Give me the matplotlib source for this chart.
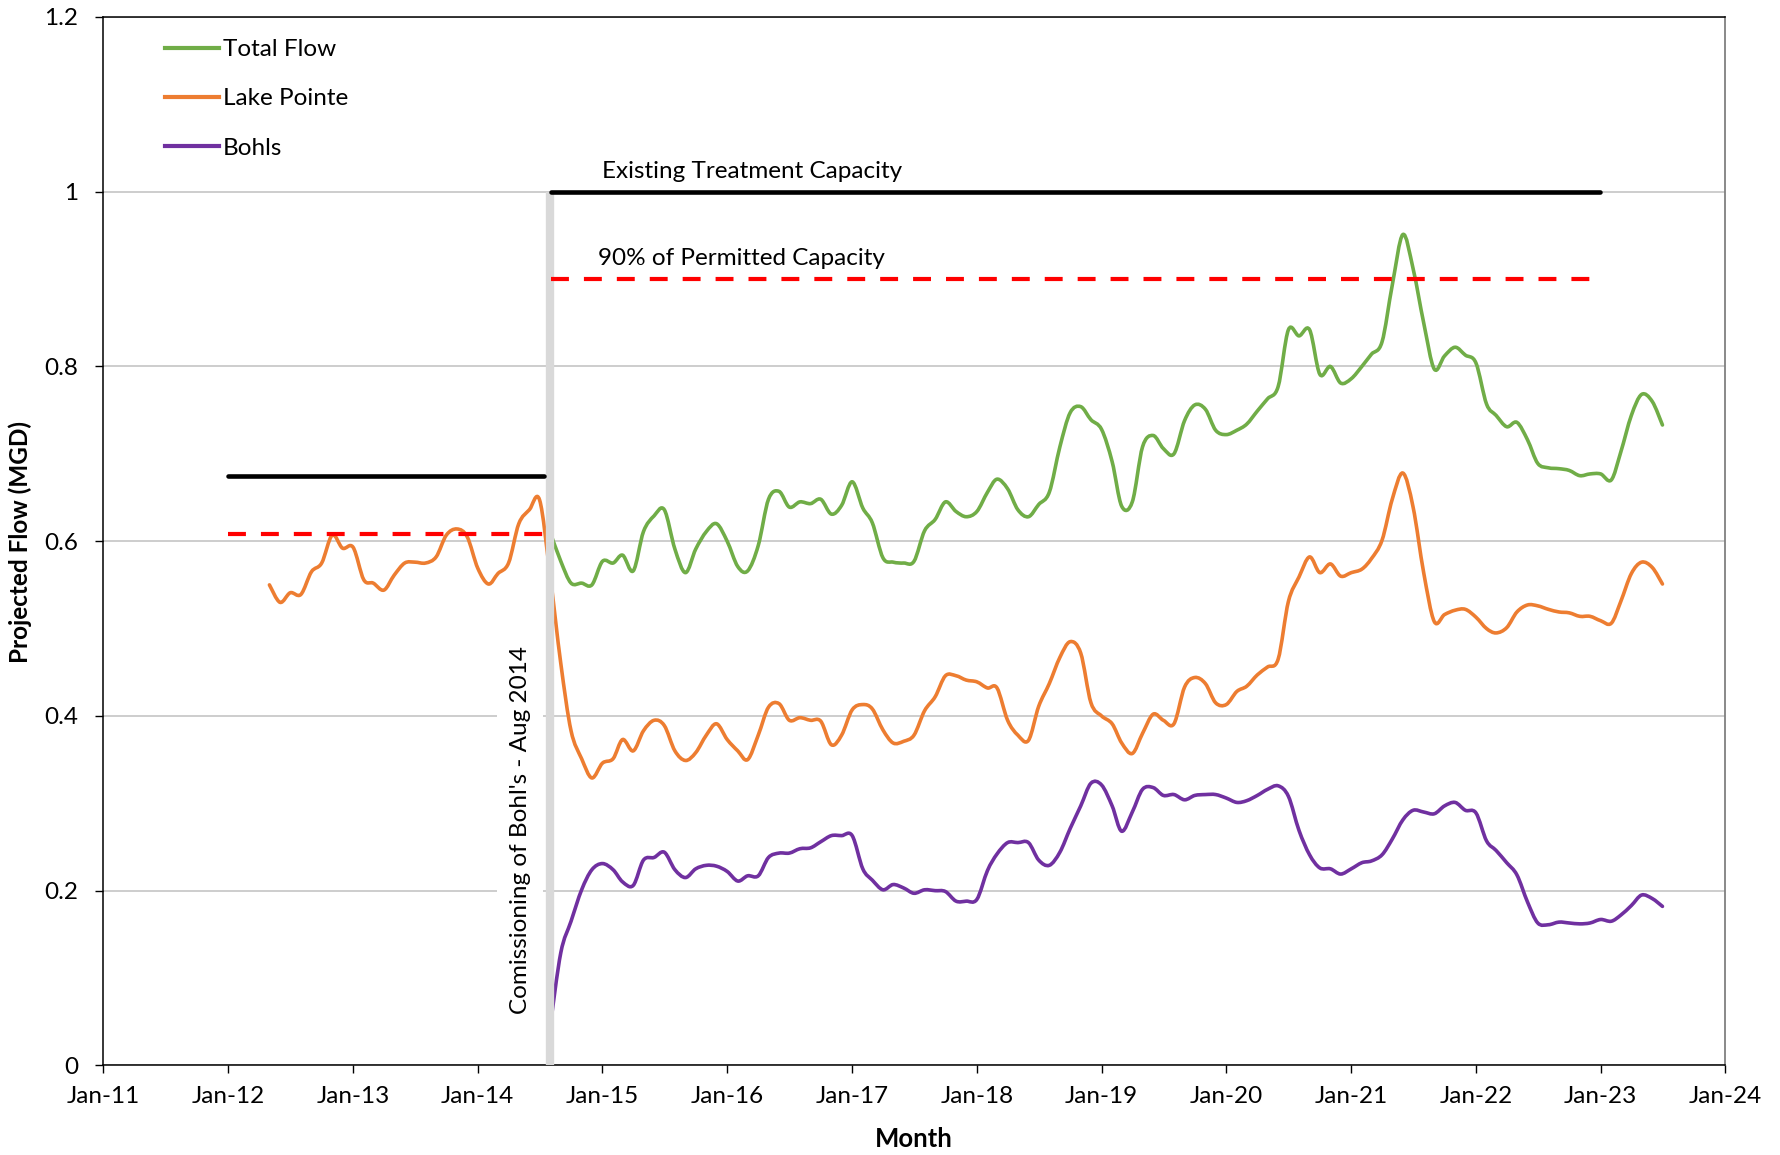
import numpy as np
import pandas as pd
import matplotlib
matplotlib.use("Agg")
import matplotlib.pyplot as plt
import matplotlib.dates as mdates
from matplotlib.path import Path
from matplotlib.patches import PathPatch
from matplotlib.lines import Line2D

plt.rcParams['font.family'] = ['Lato', 'DejaVu Sans']

# monthly projected flows (MGD)
lake_start = "2012-05-01"
lake_pointe = [
    0.550, 0.530, 0.541, 0.539, 0.565, 0.575, 0.607, 0.592,            # May-12 .. Dec-12
    0.593, 0.556, 0.552, 0.544, 0.561, 0.575, 0.576, 0.575, 0.582, 0.607, 0.614, 0.605,
    0.569, 0.551, 0.563, 0.575, 0.620, 0.636, 0.647, 0.560, 0.460, 0.383, 0.351, 0.329,
    0.346, 0.351, 0.373, 0.360, 0.383, 0.395, 0.389, 0.360, 0.349, 0.358, 0.378, 0.391,
    0.373, 0.360, 0.350, 0.378, 0.410, 0.414, 0.395, 0.398, 0.395, 0.394, 0.367, 0.378,
    0.407, 0.413, 0.408, 0.384, 0.369, 0.371, 0.378, 0.406, 0.422, 0.446, 0.446, 0.441,
    0.439, 0.432, 0.432, 0.395, 0.378, 0.372, 0.411, 0.437, 0.467, 0.485, 0.472, 0.415,
    0.400, 0.391, 0.369, 0.357, 0.380, 0.402, 0.395, 0.391, 0.433, 0.444, 0.437, 0.415,
    0.413, 0.428, 0.434, 0.447, 0.456, 0.465, 0.531, 0.559, 0.582, 0.564, 0.574, 0.560,
    0.564, 0.568, 0.580, 0.601, 0.648, 0.678, 0.639, 0.564, 0.508, 0.516, 0.521, 0.522,
    0.513, 0.500, 0.495, 0.501, 0.519, 0.527, 0.526, 0.522, 0.519, 0.518, 0.514, 0.514,
    0.509, 0.506, 0.531, 0.563, 0.576, 0.570, 0.551,
]

bohls_start = "2014-08-01"
total_flow = [
    0.610, 0.577, 0.552, 0.552, 0.550,                                  # Aug-14 .. Dec-14
    0.577, 0.575, 0.584, 0.566, 0.611, 0.629, 0.636, 0.591, 0.564, 0.591, 0.611, 0.620,
    0.600, 0.571, 0.566, 0.595, 0.648, 0.657, 0.639, 0.645, 0.643, 0.648, 0.631, 0.641,
    0.668, 0.638, 0.621, 0.581, 0.576, 0.575, 0.577, 0.612, 0.625, 0.645, 0.634, 0.628,
    0.634, 0.656, 0.671, 0.660, 0.636, 0.628, 0.642, 0.656, 0.708, 0.747, 0.754, 0.739,
    0.728, 0.691, 0.640, 0.645, 0.708, 0.721, 0.706, 0.700, 0.738, 0.756, 0.751, 0.727,
    0.722, 0.727, 0.734, 0.749, 0.763, 0.777, 0.842, 0.835, 0.842, 0.791, 0.800, 0.781,
    0.786, 0.800, 0.814, 0.828, 0.893, 0.951, 0.912, 0.850, 0.797, 0.812, 0.822, 0.813,
    0.804, 0.757, 0.744, 0.731, 0.736, 0.716, 0.689, 0.684, 0.683, 0.681, 0.675, 0.677,
    0.677, 0.670, 0.702, 0.744, 0.768, 0.760, 0.733,
]
bohls = [
    0.045, 0.129, 0.165, 0.201, 0.224,
    0.231, 0.224, 0.210, 0.206, 0.235, 0.238, 0.244, 0.224, 0.215, 0.225, 0.229, 0.228,
    0.222, 0.211, 0.217, 0.217, 0.238, 0.243, 0.243, 0.248, 0.249, 0.256, 0.263, 0.263,
    0.263, 0.225, 0.212, 0.201, 0.207, 0.203, 0.197, 0.201, 0.200, 0.199, 0.188, 0.188,
    0.190, 0.223, 0.242, 0.255, 0.255, 0.255, 0.235, 0.229, 0.244, 0.271, 0.297, 0.323,
    0.321, 0.297, 0.268, 0.290, 0.316, 0.318, 0.309, 0.310, 0.304, 0.309, 0.310, 0.310,
    0.306, 0.301, 0.303, 0.309, 0.316, 0.320, 0.308, 0.269, 0.241, 0.226, 0.225, 0.219,
    0.225, 0.232, 0.234, 0.241, 0.259, 0.281, 0.292, 0.290, 0.288, 0.297, 0.301, 0.292,
    0.289, 0.257, 0.246, 0.232, 0.218, 0.187, 0.163, 0.161, 0.164, 0.163, 0.162, 0.163,
    0.167, 0.165, 0.172, 0.183, 0.195, 0.191, 0.182,
]

# capacity references
old_capacity = 0.675
old_permit90 = 0.608
old_period = ["2012-01-01", "2014-07-15"]
new_capacity = 1.0
new_permit90 = 0.9
new_period = ["2014-08-01", "2023-01-01"]
commissioning = "2014-08-01"

year_ticks = pd.date_range("2011-01-01", "2024-01-01", freq="YS")
y_ticks = [0, 0.2, 0.4, 0.6, 0.8, 1.0, 1.2]
y_tick_labels = ["0", "0.2", "0.4", "0.6", "0.8", "1", "1.2"]


def smooth_path(x, y):
    # Excel-style smoothed line: cubic Bezier segments through every point
    x = np.asarray(x, float)
    y = np.asarray(y, float)
    n = len(x)
    verts = [(x[0], y[0])]
    codes = [Path.MOVETO]
    for i in range(n - 1):
        xp, yp = (x[i - 1], y[i - 1]) if i > 0 else (x[i], y[i])
        xn, yn = (x[i + 2], y[i + 2]) if i + 2 < n else (x[i + 1], y[i + 1])
        verts.append((x[i] + (x[i + 1] - xp) / 6, y[i] + (y[i + 1] - yp) / 6))
        verts.append((x[i + 1] - (xn - x[i]) / 6, y[i + 1] - (yn - y[i]) / 6))
        verts.append((x[i + 1], y[i + 1]))
        codes += [Path.CURVE4] * 3
    return Path(verts, codes)


green = "#70ad47"
orange = "#ed7d31"
purple = "#7030a0"
fs = 17.5

fig = plt.figure(figsize=(17.81, 11.55), dpi=100)
ax = fig.add_axes([0.05806, 0.07758, 0.91067, 0.90771])

lake_x = mdates.date2num(pd.date_range(lake_start, periods=len(lake_pointe), freq="MS"))
new_x = mdates.date2num(pd.date_range(bohls_start, periods=len(total_flow), freq="MS"))

for xs, ys, col in [(new_x, total_flow, green), (lake_x, lake_pointe, orange),
                    (new_x, bohls, purple)]:
    ax.add_patch(PathPatch(smooth_path(xs, ys), fill=False, edgecolor=col, lw=2.6,
                           capstyle='round', joinstyle='round', zorder=3))

c = mdates.date2num(pd.Timestamp(commissioning))
ax.plot([c, c], [0, 1.0], color="#d9d9d9", lw=6, solid_capstyle='butt', zorder=4)

op = mdates.date2num(pd.to_datetime(old_period))
np_ = mdates.date2num(pd.to_datetime(new_period))
ax.plot(op, [old_capacity] * 2, color="black", lw=3.3, solid_capstyle='round', zorder=5)
ax.plot(np_ + [1.5, -3], [new_capacity] * 2, color="black", lw=3.3, solid_capstyle='round', zorder=5)
ax.plot(op, [old_permit90] * 2, color="red", lw=3.0, dashes=(4.3, 3.6), zorder=5)
ax.plot(np_ + [1.5, 0], [new_permit90] * 2, color="red", lw=3.0, dashes=(4.3, 3.6), zorder=5)

ax.text(mdates.date2num(pd.Timestamp("2015-01-01")), 1.011, "Existing Treatment Capacity",
        fontsize=fs, ha='left', va='bottom')
ax.text(mdates.date2num(pd.Timestamp("2014-12-20")), 0.911, "90% of Permitted Capacity",
        fontsize=fs, ha='left', va='bottom')
ax.text(mdates.date2num(pd.Timestamp("2014-05-05")), 0.27, "Comissioning of Bohl's - Aug 2014",
        fontsize=fs, rotation=90, ha='center', va='center', zorder=6,
        bbox=dict(facecolor='white', edgecolor='none', pad=9))

ax.set_xlim(mdates.date2num(year_ticks[0]), mdates.date2num(year_ticks[-1]))
ax.set_ylim(0, 1.2)
ax.set_xticks(mdates.date2num(year_ticks))
ax.xaxis.set_major_formatter(mdates.DateFormatter("%b-%y"))
ax.set_yticks(y_ticks)
ax.set_yticklabels(y_tick_labels)
ax.yaxis.grid(True, color="#c0c0c0", lw=1.1)
ax.set_axisbelow(True)
ax.tick_params(axis='both', direction='out', length=6, width=1, labelsize=fs)
ax.tick_params(axis='x', pad=9)
ax.tick_params(axis='y', pad=12)

for side in ['left', 'bottom', 'top']:
    ax.spines[side].set_color('black')
    ax.spines[side].set_linewidth(1.1)
ax.spines['right'].set_color('#808080')
ax.spines['right'].set_linewidth(1.3)

fig.text(20 / 1781, 0.531, "Projected Flow (MGD)", rotation=90, fontsize=fs,
         fontweight='bold', ha='center', va='center')
fig.text(0.513, 0.0139, "Month", fontsize=18.5, fontweight='bold', ha='center', va='center')

handles = [Line2D([], [], color=green, lw=3),
           Line2D([], [], color=orange, lw=3),
           Line2D([], [], color=purple, lw=3)]
ax.legend(handles, ["Total Flow", "Lake Pointe", "Bohls"], loc='upper left',
          bbox_to_anchor=(0.038, 0.979), frameon=False, fontsize=fs,
          handlelength=2.2, handletextpad=0.19, labelspacing=1.17,
          borderpad=0, borderaxespad=0)

fig.savefig("out.png", dpi=100)
